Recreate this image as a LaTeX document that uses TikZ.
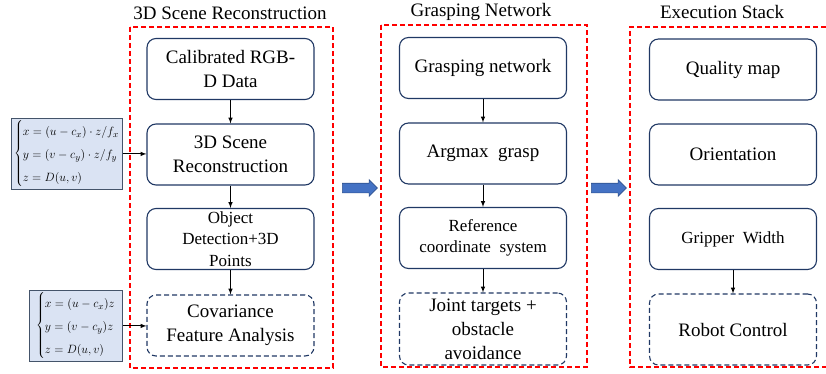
\documentclass[tikz,border=0pt]{standalone}
\usepackage{fontspec}
\setmainfont{Liberation Serif}
\usetikzlibrary{shapes.arrows}

\definecolor{framered}{RGB}{255,0,0}
\definecolor{boxnavy}{RGB}{32,56,100}
\definecolor{eqfill}{RGB}{218,227,243}
\definecolor{eqdraw}{RGB}{68,84,106}
\definecolor{flowfill}{RGB}{68,114,196}
\definecolor{flowdraw}{RGB}{47,82,143}

\begin{document}
\begin{tikzpicture}[>=latex, x=1pt, y=-1pt]

% --- Global TikZ Styles ---
\tikzset{
    stageframe/.style={
        draw=framered,
        line width=1.4pt,
        dash pattern=on 5pt off 3pt
    },
    stagetitle/.style={
        font=\fontsize{19}{22}\selectfont
    },
    procbox/.style={
        draw=boxnavy,
        line width=1.1pt,
        rounded corners=9pt,
        minimum width=167pt,
        minimum height=61pt,
        inner sep=0pt,
        align=center,
        font=\fontsize{19}{24}\selectfont
    },
    smallbox/.style={
        procbox,
        font=\fontsize{17}{21.5}\selectfont
    },
    planbox/.style={
        procbox,
        dash pattern=on 5pt off 3pt
    },
    eqbox/.style={
        draw=eqdraw,
        fill=eqfill,
        line width=1pt,
        anchor=north west,
        inner sep=1pt,
        font=\fontsize{12.5}{15}\selectfont
    },
    flowarrow/.style={
        single arrow,
        draw=flowdraw,
        fill=flowfill,
        line width=0.6pt,
        minimum height=35pt,
        inner xsep=0pt,
        inner ysep=4.5pt,
        single arrow head extend=3.5pt
    },
    arrow/.style={
        ->,
        >=latex,
        line width=1pt,
        draw=black
    }
}

\useasboundingbox (0,0) rectangle (826,374);

% ==================================================
% --- Stage frames and titles ---
% ==================================================

\draw[stageframe] (130,27) rectangle (333,368);
\draw[stageframe] (381,25) rectangle (587,367);
\draw[stageframe] (826,27) -- (630,27) -- (630,367) -- (826,367);

\node[stagetitle] (titleScene) at (230,13) {3D Scene Reconstruction};
\node[stagetitle] (titleGrasp) at (481,12) {Grasping Network};
\node[stagetitle] (titleExec)  at (722,12) {Execution Stack};

% ==================================================
% --- 3D Scene Reconstruction ---
% ==================================================

\node[procbox]  (rgbd)    at (230.5,69)    {Calibrated RGB-\\D Data};
\node[procbox]  (scene)   at (230.5,154.5) {3D Scene\\Reconstruction};
\node[smallbox] (objdet)  at (230.5,239)   {Object\\Detection+3D\\Points};
\node[planbox]  (covfeat) at (230.5,325.5) {Covariance\\Feature Analysis};

% Camera model equations
\node[eqbox, minimum width=111pt, minimum height=70pt] (eqfull) at (11,118)
    {$\left\{\renewcommand{\arraystretch}{1.53}\begin{array}{@{}l@{}}
        x=(u-c_x)\cdot z/f_x\\
        y=(v-c_y)\cdot z/f_y\\
        z=D(u,v)
    \end{array}\right.$};
\node[eqbox, minimum width=93pt, minimum height=69pt] (eqshort) at (29,290)
    {$\left\{\renewcommand{\arraystretch}{1.53}\begin{array}{@{}l@{}}
        x=(u-c_x)z\\
        y=(v-c_y)z\\
        z=D(u,v)
    \end{array}\right.$};

% ==================================================
% --- Grasping Network ---
% ==================================================

\node[procbox]  (graspnet) at (483,68)    {Grasping network};
\node[procbox]  (argmax)   at (483,153.5) {Argmax\ \ grasp};
\node[smallbox] (refcoord) at (483,238)   {Reference\\coordinate\ \ system};
\node[planbox, minimum height=72pt] (joints) at (483,329) {Joint targets +\\obstacle\\avoidance};

% ==================================================
% --- Execution Stack ---
% ==================================================

\node[procbox]  (quality) at (733,69.5)  {Quality map};
\node[procbox]  (orient)  at (733,154.5) {Orientation};
\node[smallbox] (gripper) at (733,239)   {Gripper\ \ Width};
\node[planbox, minimum height=71pt] (robot) at (733,329.5) {Robot Control};

% ==================================================
% --- Block arrows between stages ---
% ==================================================

\node[flowarrow] (flowA) at (357.5,188) {};
\node[flowarrow] (flowB) at (606.5,188) {};

% ==================================================
% --- Connectors ---
% ==================================================

\draw[arrow] (rgbd)   -- (scene);
\draw[arrow] (scene)  -- (objdet);
\draw[arrow] (objdet) -- (covfeat);

\draw[arrow] (graspnet) -- (argmax);
\draw[arrow] (argmax)   -- (refcoord);
\draw[arrow] (refcoord) -- (joints);

\draw[arrow] (gripper) -- (robot);

\draw[arrow] (eqfull.east)  -- (eqfull.east -| scene.west);
\draw[arrow] (eqshort.east) -- (eqshort.east -| covfeat.west);

\end{tikzpicture}
\end{document}
